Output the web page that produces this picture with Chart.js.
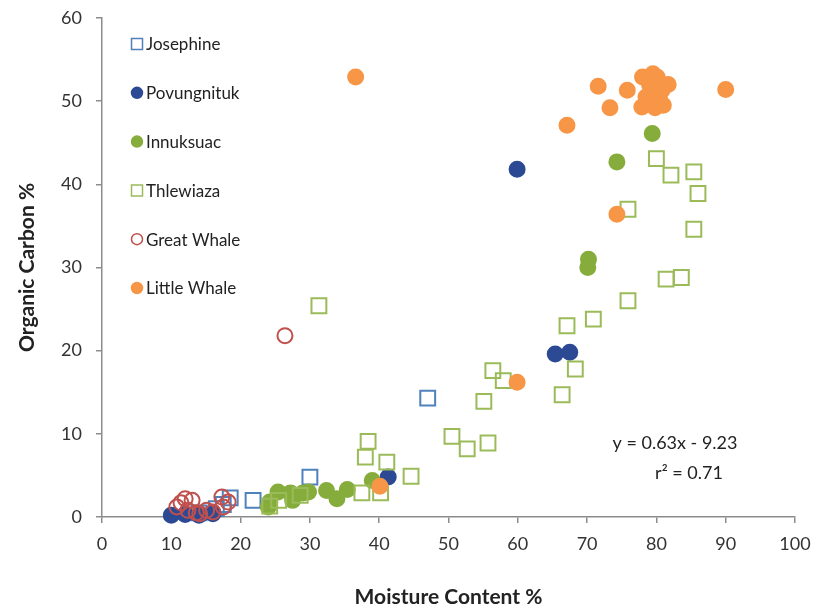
<!DOCTYPE html>
<html>
<head>
<meta charset="utf-8">
<script src="https://cdn.jsdelivr.net/npm/chart.js@4"></script>
<style>
  body { margin: 0; background: #fff; }
  #wrap { width: 814px; height: 612px; }
</style>
</head>
<body>
<div id="wrap"><canvas id="myCanvas" width="814" height="612"></canvas></div>
<script>
// series names
var seriesNames = ["Josephine", "Povungnituk", "Innuksuac", "Thlewiaza", "Great Whale", "Little Whale"];

// moisture content % (x) and organic carbon % (y)
var josephineX = [47, 30, 18.5, 21.8, 16.5, 17.5, 14];
var josephineY = [14.3, 4.8, 2.3, 2.0, 1.0, 1.5, 0.5];

var povungnitukX = [59.9, 65.4, 67.5, 41.3, 10, 12, 14, 16];
var povungnitukY = [41.8, 19.6, 19.8, 4.8, 0.2, 0.3, 0.2, 0.4];

var innuksuacX = [79.4, 74.3, 70.2, 70.1, 24, 24.2, 25.4, 27.2, 27.5, 29, 29.8, 32.4, 33.9, 35.4, 39];
var innuksuacY = [46.1, 42.7, 31.0, 30.0, 1.2, 1.8, 3.0, 2.9, 2.0, 2.9, 3.0, 3.2, 2.2, 3.3, 4.4];

var thlewiazaX = [31.3, 80, 82.1, 85.4, 86, 75.9, 85.4, 81.4, 83.6, 75.9, 70.9, 67.1, 68.3, 66.4, 56.4, 57.9, 55.1, 50.5, 52.7, 55.7, 38.4, 38, 41.1, 44.6, 37.5, 40.2, 28.6, 25.5, 24.2];
var thlewiazaY = [25.4, 43.1, 41.1, 41.5, 38.9, 37.0, 34.6, 28.6, 28.8, 26.0, 23.8, 23.0, 17.8, 14.7, 17.6, 16.4, 13.9, 9.7, 8.2, 8.9, 9.1, 7.2, 6.6, 4.9, 2.9, 2.9, 2.6, 2.0, 1.3];

var greatWhaleX = [26.4, 10.8, 11.4, 12, 13, 12.4, 13.6, 14.1, 15.1, 16, 17.3, 18.2, 17.5];
var greatWhaleY = [21.8, 1.2, 1.7, 2.2, 2.0, 0.8, 0.5, 0.4, 0.8, 0.6, 2.4, 1.8, 1.2];

var littleWhaleX = [36.6, 71.6, 75.8, 73.3, 67.1, 90, 74.3, 59.9, 40.1, 78, 80.1, 81.7, 79.1, 80.5, 77.9, 79.8, 79, 80.8, 78.5, 81, 79.5];
var littleWhaleY = [52.9, 51.8, 51.3, 49.2, 47.1, 51.4, 36.4, 16.2, 3.7, 52.9, 52.9, 52.0, 50.8, 50.1, 49.3, 49.2, 52.0, 51.3, 50.5, 49.5, 53.3];

var xTicks = [0, 10, 20, 30, 40, 50, 60, 70, 80, 90, 100];
var yTicks = [0, 10, 20, 30, 40, 50, 60];

var trendText = ["y = 0.63x - 9.23", "r\u00b2 = 0.71"];

var fontFam = "Lato, 'Open Sans', sans-serif";

function pares(xs, ys) {
    var out = [];
    for (var i = 0; i < xs.length; i++) {
        out.push({x: xs[i], y: ys[i]});
    }
    return out;
}

function serie(nom, xs, ys, forma, color, ple, radi, ordre) {
    return {
        label: nom,
        data: pares(xs, ys),
        pointStyle: forma,
        pointRadius: radi,
        pointBorderWidth: 2,
        borderColor: color,
        backgroundColor: ple ? color : 'rgba(0,0,0,0)',
        pointHoverRadius: radi,
        order: ordre,
        clip: false
    };
}

var datasets = [
    serie(seriesNames[0], josephineX, josephineY, 'rect', '#4f81bd', false, 10.5, 6),
    serie(seriesNames[1], povungnitukX, povungnitukY, 'circle', '#2c4a94', true, 7.5, 5),
    serie(seriesNames[2], innuksuacX, innuksuacY, 'circle', '#86ad3c', true, 7.5, 4),
    serie(seriesNames[3], thlewiazaX, thlewiazaY, 'rect', '#9bbb59', false, 10.5, 3),
    serie(seriesNames[4], greatWhaleX, greatWhaleY, 'circle', '#c0504d', false, 7.5, 2),
    serie(seriesNames[5], littleWhaleX, littleWhaleY, 'circle', '#f79646', true, 7.5, 1)
];

// legend drawn inside the plot, top left, like the original
var llegenda = {
    id: 'llegenda',
    afterDraw: function (chart) {
        var ctx = chart.ctx;
        var area = chart.chartArea;
        var x0 = area.left + 35;
        var y0 = area.top + 26;
        var pas = 48.8;
        ctx.save();
        ctx.font = "17px " + fontFam;
        ctx.textBaseline = 'middle';
        ctx.textAlign = 'left';
        for (var i = 0; i < chart.data.datasets.length; i++) {
            var ds = chart.data.datasets[i];
            var y = y0 + i * pas;
            ctx.lineWidth = 1.5;
            ctx.strokeStyle = ds.borderColor;
            ctx.fillStyle = ds.backgroundColor;
            ctx.beginPath();
            if (ds.pointStyle === 'rect') {
                ctx.rect(x0 - 5.5, y - 5.5, 11, 11);
            } else {
                ctx.arc(x0, y, 5.5, 0, Math.PI * 2);
            }
            ctx.fill();
            ctx.stroke();
            ctx.fillStyle = '#222';
            ctx.fillText(ds.label, x0 + 9, y + 1);
        }
        // trendline equation
        ctx.textAlign = 'center';
        ctx.font = "18px " + fontFam;
        ctx.fillText(trendText[0], 675, 443);
        ctx.fillText(trendText[1], 689, 473);
        ctx.restore();
    }
};

var ctx = document.getElementById('myCanvas');
var chart = new Chart(ctx, {
    type: 'scatter',
    data: {datasets: datasets},
    options: {
        responsive: false,
        animation: false,
        layout: {padding: {top: 18, right: 19, left: 0, bottom: 0}},
        plugins: {
            legend: {display: false},
            tooltip: {enabled: false}
        },
        scales: {
            x: {
                type: 'linear',
                min: 0,
                max: 100,
                afterBuildTicks: function (s) { s.ticks = xTicks.map(function (v) { return {value: v}; }); },
                afterFit: function (s) { s.height = 95; s.paddingLeft = 0; s.paddingRight = 0; },
                grid: {display: true, drawOnChartArea: false, drawTicks: true, tickLength: 6, color: '#8c8c8c', lineWidth: 1.5},
                border: {display: true, color: '#8c8c8c', width: 1.5},
                ticks: {color: '#333', font: {family: fontFam, size: 18}, padding: 10, maxRotation: 0},
                title: {display: true, text: 'Moisture Content %', color: '#222', font: {family: fontFam, size: 21, weight: 'bold'}, padding: {top: 0, bottom: 2}}
            },
            y: {
                type: 'linear',
                min: 0,
                max: 60,
                afterBuildTicks: function (s) { s.ticks = yTicks.map(function (v) { return {value: v}; }); },
                afterFit: function (s) { s.width = 102; s.paddingTop = 0; s.paddingBottom = 0; },
                grid: {display: true, drawOnChartArea: false, drawTicks: true, tickLength: 6, color: '#8c8c8c', lineWidth: 1.5},
                border: {display: true, color: '#8c8c8c', width: 1.5},
                ticks: {color: '#333', font: {family: fontFam, size: 18}, padding: 14},
                title: {display: true, text: 'Organic Carbon %', color: '#222', font: {family: fontFam, size: 21, weight: 'bold'}, padding: {top: 15, bottom: 0}}
            }
        }
    },
    plugins: [llegenda]
});
</script>
</body>
</html>
